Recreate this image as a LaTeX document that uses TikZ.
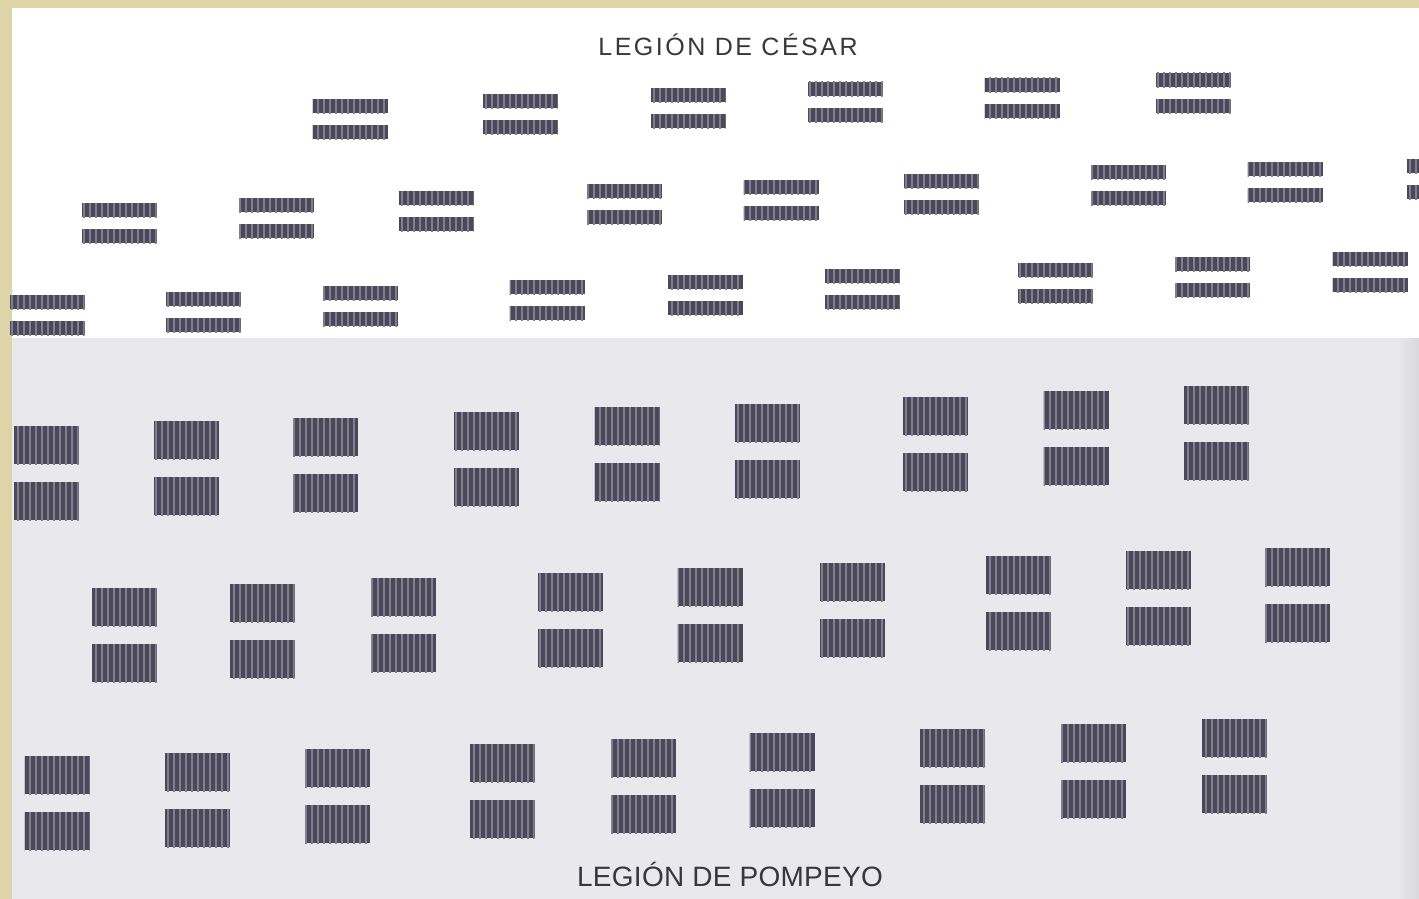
\documentclass[tikz,border=0pt]{standalone}
\usepackage{fontspec}
\setmainfont{Liberation Sans}
\usetikzlibrary{patterns.meta}

\definecolor{pergamino}{RGB}{221,213,168}
\definecolor{trama}{RGB}{232,232,237}
\definecolor{tropa}{RGB}{74,72,90}
\definecolor{letra}{RGB}{55,55,62}

\begin{document}
\begin{tikzpicture}[x=1pt, y=-1pt,
    soldados/.style={postaction={pattern={Lines[angle=90, distance=6pt, line width=1.2pt]}, pattern color=tropa!70!white}},
    linea/.style={fill=tropa, soldados, minimum width=75pt, minimum height=14pt, inner sep=0pt},
    bloque/.style={fill=tropa, soldados, minimum width=65pt, minimum height=38pt, inner sep=0pt},
    rotulo/.style={text=letra, inner sep=0pt, anchor=base}]

    % Fondo, hoja y zona gris
    \fill[pergamino] (0,0) rectangle (1419,899);
    \fill[white] (12,8) rectangle (1419,899);
    \fill[trama] (12,338) rectangle (1419,899);
    \shade[left color=trama, right color=gray!30] (1398,338) rectangle (1419,899);
    \useasboundingbox (0,0) rectangle (1419,899);
    \clip (0,0) rectangle (1419,899);

    % Legion de Cesar: tres lineas de cohortes
    \foreach \x/\y [count=\i] in {350/106, 520/101, 688/95, 845/89, 1022/85, 1193/80} {
        \node[linea] (c1-\i-a) at (\x,\y) {};
        \node[linea] (c1-\i-b) at (\x,\y+26) {};
    }
    \foreach \x/\y [count=\i] in {119/210, 276/205, 436/198, 624/191, 781/187, 941/181, 1128/172, 1285/169, 1444/166} {
        \node[linea] (c2-\i-a) at (\x,\y) {};
        \node[linea] (c2-\i-b) at (\x,\y+26) {};
    }
    \foreach \x/\y [count=\i] in {47/302, 203/299, 360/293, 547/287, 705/282, 862/276, 1055/270, 1212/264, 1370/259} {
        \node[linea] (c3-\i-a) at (\x,\y) {};
        \node[linea] (c3-\i-b) at (\x,\y+26) {};
    }

    % Legion de Pompeyo: tres lineas de cohortes
    \foreach \x/\y [count=\i] in {46/445, 186/440, 325/437, 486/431, 627/426, 767/423, 935/416, 1076/410, 1216/405} {
        \node[bloque] (p1-\i-a) at (\x,\y) {};
        \node[bloque] (p1-\i-b) at (\x,\y+56) {};
    }
    \foreach \x/\y [count=\i] in {124/607, 262/603, 403/597, 570/592, 710/587, 852/582, 1018/575, 1158/570, 1297/567} {
        \node[bloque] (p2-\i-a) at (\x,\y) {};
        \node[bloque] (p2-\i-b) at (\x,\y+56) {};
    }
    \foreach \x/\y [count=\i] in {57/775, 197/772, 337/768, 502/763, 643/758, 782/752, 952/748, 1093/743, 1234/738} {
        \node[bloque] (p3-\i-a) at (\x,\y) {};
        \node[bloque] (p3-\i-b) at (\x,\y+56) {};
    }

    % Rotulos
    \node[rotulo, font=\fontsize{25}{28}\selectfont\addfontfeature{LetterSpace=10}] (cesar) at (728,56) {LEGIÓN DE CÉSAR};
    \node[rotulo, font=\fontsize{28}{31}\selectfont\addfontfeature{LetterSpace=1}] (pompeyo) at (730,886) {LEGIÓN DE POMPEYO};
\end{tikzpicture}
\end{document}
